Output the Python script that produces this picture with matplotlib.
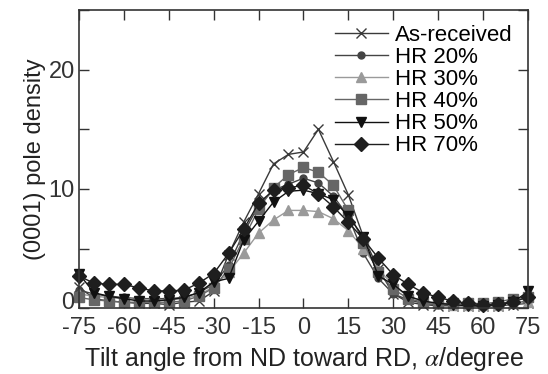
import matplotlib
matplotlib.use("Agg")
import matplotlib.pyplot as plt
from matplotlib.ticker import MultipleLocator, FuncFormatter

plt.rcParams["font.family"] = ["Liberation Sans", "DejaVu Sans"]
plt.rcParams["mathtext.fontset"] = "stix"
plt.rcParams["axes.unicode_minus"] = False

tilt = [-75, -70, -65, -60, -55, -50, -45, -40, -35, -30, -25, -20, -15, -10, -5,
        0, 5, 10, 15, 20, 25, 30, 35, 40, 45, 50, 55, 60, 65, 70, 75]

as_received = [1.8, 0.8, 0.6, 0.5, 0.4, 0.4, 0.3, 0.5, 0.6, 1.4, 4.5, 7.2, 9.6, 12.1, 12.9,
               13.1, 15.0, 12.3, 9.5, 6.0, 3.3, 1.2, 0.5, 0.3, 0.2, 0.2, 0.2, 0.2, 0.2, 0.3, 0.4]
hr20 = [1.5, 1.2, 1.0, 0.9, 0.8, 0.8, 0.8, 0.9, 1.3, 2.0, 3.6, 6.3, 8.6, 9.9, 10.4,
        10.9, 10.5, 9.4, 7.7, 4.6, 2.5, 1.2, 0.7, 0.4, 0.3, 0.3, 0.2, 0.2, 0.3, 0.4, 0.6]
hr30 = [1.2, 1.0, 0.9, 0.8, 0.7, 0.7, 0.7, 0.8, 1.1, 1.8, 3.0, 4.6, 6.3, 7.4, 8.2,
        8.2, 8.1, 7.5, 6.5, 5.0, 3.3, 1.9, 1.0, 0.6, 0.4, 0.3, 0.3, 0.3, 0.3, 0.4, 0.5]
hr40 = [0.9, 0.7, 0.6, 0.5, 0.5, 0.5, 0.5, 0.6, 1.0, 1.7, 3.3, 5.8, 8.3, 10.1, 11.2,
        11.8, 11.4, 10.3, 8.2, 5.5, 3.0, 1.6, 0.8, 0.5, 0.4, 0.4, 0.4, 0.4, 0.5, 0.8, 0.9]
hr50 = [2.9, 1.3, 1.0, 0.8, 0.6, 0.6, 0.7, 0.9, 1.3, 2.2, 2.5, 5.7, 7.3, 8.9, 9.8,
        9.9, 9.6, 9.1, 7.7, 6.0, 2.7, 2.0, 1.0, 0.6, 0.4, 0.3, 0.2, 0.2, 0.3, 0.5, 1.4]
hr70 = [2.7, 2.1, 2.0, 2.0, 1.7, 1.45, 1.45, 1.5, 2.1, 2.9, 4.6, 6.6, 8.8, 9.9, 10.1,
        10.3, 9.6, 8.5, 7.2, 5.8, 4.2, 2.8, 2.0, 1.3, 0.9, 0.6, 0.4, 0.3, 0.35, 0.55, 0.9]

labels = ["As-received", "HR 20%", "HR 30%", "HR 40%", "HR 50%", "HR 70%"]
series = [as_received, hr20, hr30, hr40, hr50, hr70]
styles = [
    dict(color="#3a3a3a", marker="x", markersize=7, markeredgewidth=1.0),
    dict(color="#444444", marker="o", markersize=5),
    dict(color="#9a9a9a", marker="^", markersize=7),
    dict(color="#666666", marker="s", markersize=6.5),
    dict(color="#111111", marker="v", markersize=7.5),
    dict(color="#1e1e1e", marker="D", markersize=7.5),
]

fig = plt.figure(figsize=(5.48, 3.74), dpi=100)
ax = fig.add_axes([0.144, 0.176, 0.8195, 0.797])

for vals, lab, st in zip(series, labels, styles):
    ax.plot(tilt, vals, linewidth=1.0, label=lab, clip_on=False, **st)

ax.set_xlim(-75, 75)
ax.set_ylim(0, 25)
ax.xaxis.set_major_locator(MultipleLocator(15))
ax.yaxis.set_major_locator(MultipleLocator(5))
# 10 and 20 as normal labels, the 0 is placed by hand a bit higher (like the original)
ax.yaxis.set_major_formatter(FuncFormatter(lambda v, p: "%d" % v if v in (10, 20) else ""))
ax.tick_params(direction="in", length=7, width=1.0, top=True, right=True,
               labelsize=17, colors="#333333")
ax.tick_params(axis="x", pad=6)
ax.tick_params(axis="y", pad=3)
ax.annotate("0", xy=(0, 0), xycoords=ax.get_yaxis_transform(), xytext=(-3, 4),
            textcoords="offset points", ha="right", va="center", fontsize=17,
            color="#333333", annotation_clip=False)
for sp in ax.spines.values():
    sp.set_linewidth(1.2)
    sp.set_color("#333333")

ax.set_xlabel(r"Tilt angle from ND toward RD, $\alpha$/degree", fontsize=18,
              color="#222222", labelpad=5)
ax.set_ylabel("(0001) pole density", fontsize=17, color="#222222", labelpad=2)

ax.legend(loc="upper right", bbox_to_anchor=(0.995, 0.995), frameon=False, fontsize=16,
          handlelength=2.4, handletextpad=0.3, labelspacing=0.05, borderaxespad=0.2)

plt.savefig("out.png", dpi=100)
